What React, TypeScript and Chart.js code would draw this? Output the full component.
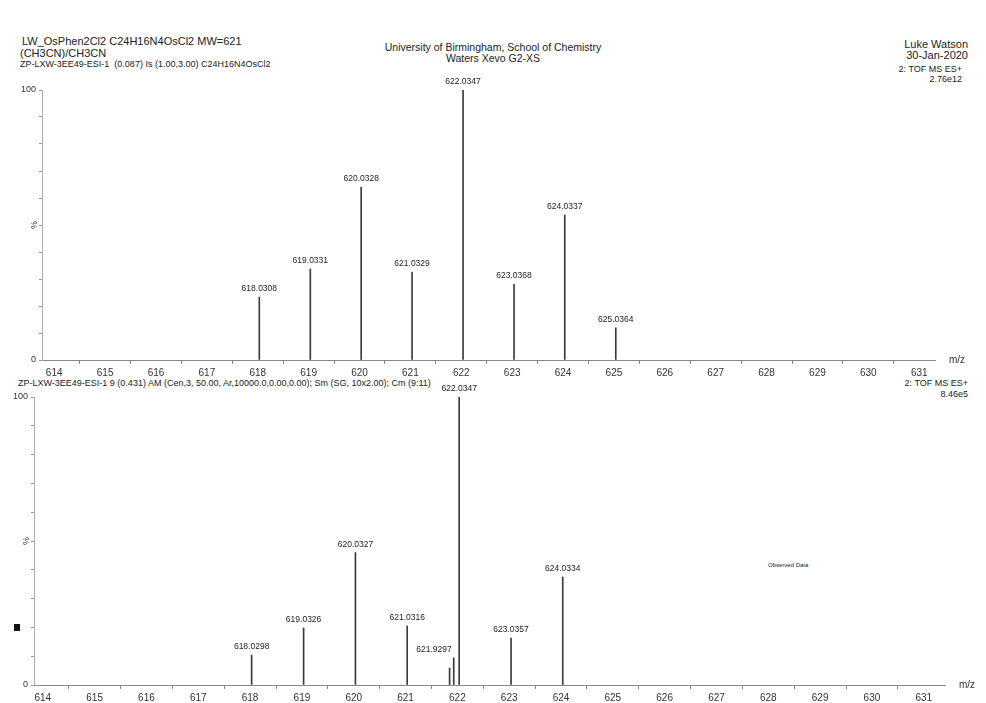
import React, { useEffect, useRef } from 'react';
import { Chart, registerables } from 'chart.js';
Chart.register(...registerables);

const FONT = '"Liberation Sans", Arial, sans-serif';

// Top panel: theoretical isotope pattern
const topMz = [618.0308, 619.0331, 620.0328, 621.0329, 622.0347, 623.0368, 624.0337, 625.0364];
const topIntensity = [23.3, 33.7, 64.0, 32.6, 100, 28.0, 53.7, 11.9];
const topLabels = ['618.0308', '619.0331', '620.0328', '621.0329', '622.0347', '623.0368', '624.0337', '625.0364'];
const topAlign = ['center', 'center', 'center', 'center', 'center', 'center', 'center', 'center'];

// Bottom panel: observed data
const botMz = [618.0298, 619.0326, 620.0327, 621.0316, 621.85, 621.9297, 622.0347, 623.0357, 624.0334];
const botIntensity = [10.4, 19.8, 46.0, 20.5, 5.9, 9.4, 100, 16.3, 37.5];
const botLabels = ['618.0298', '619.0326', '620.0327', '621.0316', '', '621.9297', '622.0347', '623.0357', '624.0334'];
const botAlign = ['center', 'center', 'center', 'center', 'center', 'right', 'center', 'center', 'center'];

type PanelProps = {
  top: number;
  height: number;
  padTop: number;
  axisLeft: number;
  padRight: number;
  xAxisHeight: number;
  xMin: number;
  xMax: number;
  mz: number[];
  intensity: number[];
  labels: string[];
  align: string[];
};

function Panel(p: PanelProps) {
  const ref = useRef<HTMLCanvasElement>(null);
  useEffect(() => {
    if (!ref.current) return;
    const labelPlugin = {
      id: 'peakLabels',
      afterDraw(chart: any) {
        const ctx = chart.ctx;
        const meta = chart.getDatasetMeta(0);
        ctx.save();
        ctx.fillStyle = '#222';
        ctx.font = `8.5px ${FONT}`;
        ctx.textBaseline = 'bottom';
        meta.data.forEach((el: any, i: number) => {
          const t = p.labels[i];
          if (!t) return;
          const a = p.align[i] || 'center';
          ctx.textAlign = a;
          ctx.fillText(t, a === 'right' ? el.x - 2 : el.x, el.y - 4);
        });
        const ca = chart.chartArea;
        ctx.font = `10px ${FONT}`;
        ctx.textAlign = 'left';
        ctx.textBaseline = 'middle';
        ctx.fillStyle = '#333';
        ctx.fillText('m/z', ca.right + 14, ca.bottom);
        ctx.translate(ca.left - 7, (ca.top + ca.bottom) / 2);
        ctx.rotate(-Math.PI / 2);
        ctx.textAlign = 'center';
        ctx.font = `9px ${FONT}`;
        ctx.fillText('%', 0, 0);
        ctx.restore();
      },
    };
    const chart = new Chart(ref.current, {
      type: 'bar',
      data: {
        datasets: [
          {
            data: p.mz.map((x, i) => ({ x, y: p.intensity[i] })),
            backgroundColor: '#3a3a3a',
            barThickness: 1,
            categoryPercentage: 1,
            barPercentage: 1,
          } as any,
        ],
      },
      options: {
        animation: false,
        responsive: false,
        maintainAspectRatio: false,
        plugins: { legend: { display: false }, tooltip: { enabled: false } },
        layout: { padding: { top: p.padTop, right: p.padRight, left: 0, bottom: 0 } },
        scales: {
          x: {
            type: 'linear',
            min: p.xMin,
            max: p.xMax,
            offset: false,
            ticks: {
              stepSize: 1,
              includeBounds: false,
              autoSkip: false,
              maxRotation: 0,
              padding: 3,
              color: '#333',
              font: { size: 10, family: FONT },
              callback: (v: any) => (Number.isInteger(v) ? String(v) : ''),
            },
            grid: { display: true, drawOnChartArea: false, drawTicks: true, tickLength: 4, color: '#888' },
            border: { display: true, color: '#888', dash: [6, 2] },
            afterFit: (s: any) => {
              s.height = p.xAxisHeight;
            },
          },
          y: {
            min: 0,
            max: 100,
            ticks: {
              stepSize: 10,
              autoSkip: false,
              padding: 3,
              color: '#333',
              font: { size: 9, family: FONT },
              callback: (v: any) => (v === 0 || v === 100 ? String(v) : ''),
            },
            grid: { display: true, drawOnChartArea: false, drawTicks: true, tickLength: 3, color: '#999' },
            border: { display: true, color: '#aaa', dash: [2, 2] },
            afterFit: (s: any) => {
              s.width = p.axisLeft;
            },
          },
        },
      } as any,
      plugins: [labelPlugin],
    });
    return () => chart.destroy();
  }, []);
  return (
    <canvas
      ref={ref}
      width={986}
      height={p.height}
      style={{ position: 'absolute', left: 0, top: p.top, width: 986, height: p.height }}
    />
  );
}

const txt = (s: React.CSSProperties): React.CSSProperties => ({
  position: 'absolute',
  fontFamily: FONT,
  color: '#222',
  lineHeight: 1,
  whiteSpace: 'nowrap',
  ...s,
});

export default function App() {
  return (
    <div style={{ position: 'absolute', left: 0, top: 0, width: 986, height: 703, background: '#fff', overflow: 'hidden' }}>
      <div style={txt({ left: 22, top: 36, fontSize: 11 })}>LW_OsPhen2Cl2 C24H16N4OsCl2 MW=621</div>
      <div style={txt({ left: 20, top: 48, fontSize: 11 })}>(CH3CN)/CH3CN</div>
      <div style={txt({ left: 20, top: 60, fontSize: 9 })}>ZP-LXW-3EE49-ESI-1&nbsp;&nbsp;(0.087) Is (1.00,3.00) C24H16N4OsCl2</div>

      <div style={txt({ left: 293, width: 400, textAlign: 'center', top: 42, fontSize: 10.5 })}>
        University of Birmingham, School of Chemistry
      </div>
      <div style={txt({ left: 293, width: 400, textAlign: 'center', top: 53, fontSize: 10.5 })}>Waters Xevo G2-XS</div>

      <div style={txt({ right: 18, top: 39, fontSize: 11, textAlign: 'right' })}>Luke Watson</div>
      <div style={txt({ right: 18, top: 50, fontSize: 11, textAlign: 'right' })}>30-Jan-2020</div>
      <div style={txt({ right: 24, top: 65, fontSize: 9, textAlign: 'right' })}>2: TOF MS ES+</div>
      <div style={txt({ right: 24, top: 75, fontSize: 9, textAlign: 'right' })}>2.76e12</div>

      <div style={txt({ left: 18, top: 379, fontSize: 9 })}>
        ZP-LXW-3EE49-ESI-1 9 (0.431) AM (Cen,3, 50.00, Ar,10000.0,0.00,0.00); Sm (SG, 10x2.00); Cm (9:11)
      </div>
      <div style={txt({ right: 18, top: 379, fontSize: 9, textAlign: 'right' })}>2: TOF MS ES+</div>
      <div style={txt({ right: 18, top: 390, fontSize: 9, textAlign: 'right' })}>8.46e5</div>

      <div style={txt({ left: 768, top: 562, fontSize: 6 })}>Observed Data</div>
      <div style={{ position: 'absolute', left: 14, top: 624, width: 6, height: 7, background: '#111' }} />

      <Panel
        top={70}
        height={310}
        padTop={20}
        axisLeft={42}
        padRight={51}
        xAxisHeight={20}
        xMin={613.76}
        xMax={631.31}
        mz={topMz}
        intensity={topIntensity}
        labels={topLabels}
        align={topAlign}
      />
      <Panel
        top={377}
        height={326}
        padTop={20}
        axisLeft={34}
        padRight={41}
        xAxisHeight={18}
        xMin={613.83}
        xMax={631.41}
        mz={botMz}
        intensity={botIntensity}
        labels={botLabels}
        align={botAlign}
      />
    </div>
  );
}
